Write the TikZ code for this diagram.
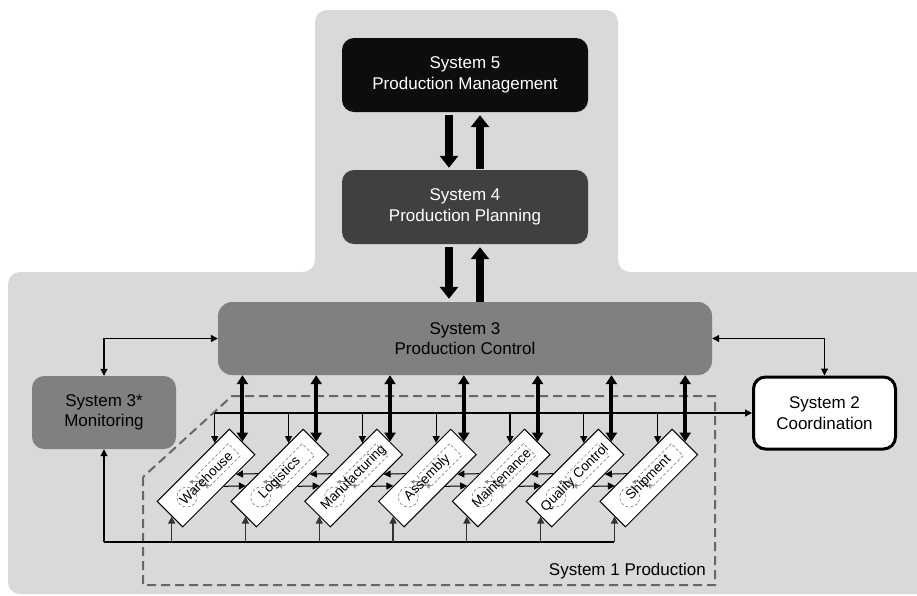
\documentclass[tikz,border=0pt]{standalone}
\usepackage{fontspec}
\setmainfont{Liberation Sans}
\usetikzlibrary{arrows.meta,calc}
\definecolor{bg}{HTML}{D9D9D9}
\definecolor{sfive}{HTML}{0D0D0D}
\definecolor{sfour}{HTML}{404040}
\definecolor{sthree}{HTML}{808080}
\definecolor{dashgray}{HTML}{666666}
\definecolor{decogray}{HTML}{8C8C8C}
\begin{document}
\begin{tikzpicture}[x=1pt,y=-1pt,
  sysbox/.style={rounded corners=12pt, align=center, inner sep=0pt,
    font=\fontsize{17}{20.5}\selectfont},
  modbox/.style={draw=black, fill=white, line width=1pt, minimum width=102pt,
    minimum height=36pt, inner sep=0pt, rotate=45},
  modtext/.style={rotate=45, inner sep=0pt, font=\fontsize{13.5}{16}\selectfont},
  deco/.style={draw=decogray, line width=0.7pt, dash pattern=on 3pt off 2pt},
  decoarrow/.style={draw=decogray, line width=0.8pt, -{Triangle[width=4pt,length=4pt]}},
  bigarrow/.style={line width=8pt, -{Triangle[width=18pt,length=12pt]}},
  dbl/.style={line width=4pt, {Triangle[width=11pt,length=9pt]}-{Triangle[width=11pt,length=9pt]}},
  thinarrow/.style={line width=1.2pt, -{Triangle[width=7pt,length=7pt]}},
  thindbl/.style={line width=1.2pt, {Triangle[width=7pt,length=7pt]}-{Triangle[width=7pt,length=7pt]}},
  sysone/.style={draw=dashgray, line width=2pt, dash pattern=on 9pt off 5pt}
]
\useasboundingbox (0,0) rectangle (917,595);
% background panels
\fill[bg, rounded corners=12pt] (315,10) -- (618,10) -- (618,272) -- (935,272)
  -- (935,594) -- (8,594) -- (8,272) -- (315,272) -- cycle;

% System 1 region
\draw[sysone] (143,477) -- (143,585) -- (715,585) -- (715,396) -- (232,396) -- cycle;
\node[anchor=east, inner sep=0pt, font=\fontsize{17}{20.5}\selectfont] (s1lab) at (706,571) {System 1 Production};

% main system boxes
\node[sysbox, fill=sfive, text=white, minimum width=246pt, minimum height=74pt] (s5) at (465,75) {System 5\\Production Management};
\node[sysbox, fill=sfour, text=white, minimum width=246pt, minimum height=74pt] (s4) at (465,207) {System 4\\Production Planning};
\node[sysbox, fill=sthree, text=black, rounded corners=14pt, minimum width=494pt, minimum height=73pt] (s3) at (465,338.5) {System 3\\Production Control};
\node[sysbox, fill=sthree, text=black, minimum width=144pt, minimum height=73pt] (s3s) at (104,412.5) {System 3*\\Monitoring};
\node[sysbox, fill=white, draw=black, line width=3pt, text=black, minimum width=142pt, minimum height=72pt] (s2) at (824.5,413) {System 2\\Coordination};

% S5 <-> S4 and S4 <-> S3
\draw[bigarrow, shorten <=3pt, shorten >=2pt] ([xshift=-16pt]s5.south) -- ([xshift=-16pt]s4.north);
\draw[bigarrow, shorten <=1pt, shorten >=3pt] ([xshift=15pt]s4.north) -- ([xshift=15pt]s5.south);
\draw[bigarrow, shorten <=3pt, shorten >=3pt] ([xshift=-16pt]s4.south) -- ([xshift=-16pt]s3.north);
\draw[bigarrow, shorten >=3pt] ([xshift=15pt]s3.north) -- ([xshift=15pt]s4.south);

% S3 <-> S3*, S3 <-> S2
\draw[thindbl] (s3.west) -| (s3s.north);
\draw[thindbl] (s3.east) -| (s2.north);

% modules
\foreach \t [count=\i] in {Warehouse,Logistics,Manufacturing,Assembly,Maintenance,Quality Control,Shipment}{
  \node[modbox] (m\i) at ({206+73.8*(\i-1)},478) {};
  \begin{scope}[shift={(m\i.center)}, rotate=45]
    \draw[deco] (-6,-8.5) rectangle (40,8.5);
    \draw[deco] (-27,0) circle (10);
  \end{scope}
  \draw[decoarrow] ($(m\i.center)+(-3,3.8)$) -- ($(m\i.center)+(-17,3.8)$);
  \draw[decoarrow] ($(m\i.center)+(-7,7.5)$) -- ($(m\i.center)+(4,7.5)$);
  \node[modtext] (t\i) at (m\i.center) {\t};
}

\coordinate (hl) at (0,413);
\coordinate (bl) at (0,542);

\foreach \i in {1,...,7}{
  \coordinate (d\i) at ($(m\i.north west)!0.8!(m\i.north east)$);
  \coordinate (b\i) at ($(m\i.north west)!0.58!(m\i.south west)$);
  \draw[thinarrow] (d\i |- hl) -- (d\i);
  \draw[dbl] (m\i.east |- s3.south) -- (m\i.east);
}

% coordination line to System 2
\draw[thinarrow] (d1 |- hl) -- (s2.west);

% bottom monitoring bus
\draw[line width=2pt] (s3s.south |- bl) -- (b7 |- bl);
\draw[thinarrow] (s3s.south |- bl) -- (s3s.south);
\foreach \i in {1,...,7}{
  \draw[thinarrow, draw=black!80] (b\i |- bl) -- (b\i);
}

% connections between neighbouring modules
\foreach \i in {1,...,6}{
  \pgfmathtruncatemacro\j{\i+1}
  \coordinate (p\i) at ($(m\i.south east)!0.268!(m\i.south west)$);
  \coordinate (q\i) at ($(m\i.south east)!0.435!(m\i.south west)$);
  \coordinate (r\i) at ($(m\j.north east)!0.62!(m\j.north west)$);
  \coordinate (u\i) at ($(m\j.north east)!0.787!(m\j.north west)$);
  \draw[thinarrow, line width=1pt] (r\i) -- (p\i);
  \draw[thinarrow, line width=1pt] (q\i) -- (u\i);
}
\end{tikzpicture}
\end{document}
